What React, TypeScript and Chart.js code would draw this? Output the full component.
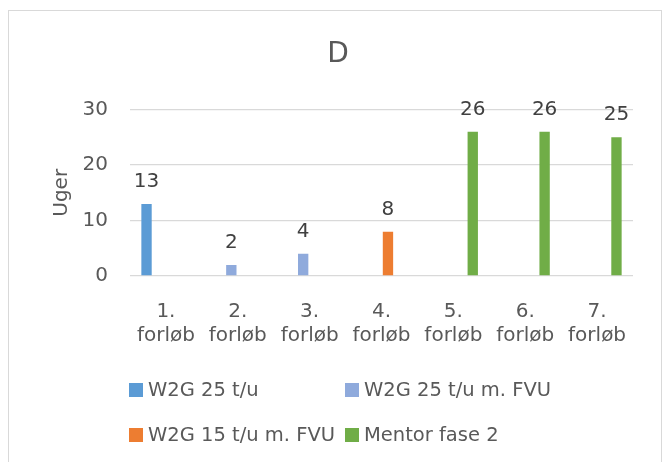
import React, { useEffect, useRef } from "react";
import { Chart, registerables } from "chart.js";

Chart.register(...registerables);

const categories: string[][] = [
  ["1.", "forløb"],
  ["2.", "forløb"],
  ["3.", "forløb"],
  ["4.", "forløb"],
  ["5.", "forløb"],
  ["6.", "forløb"],
  ["7.", "forløb"],
];
const seriesNames = ["W2G 25 t/u", "W2G 25 t/u m. FVU", "W2G 15 t/u m. FVU", "Mentor fase 2"];
const w2g25: (number | null)[] = [13, null, null, null, null, null, null];
const w2g25fvu: (number | null)[] = [null, 2, 4, null, null, null, null];
const w2g15fvu: (number | null)[] = [null, null, null, 8, null, null, null];
const mentor: (number | null)[] = [null, null, null, null, 26, 26, 25];
const seriesColors = ["#5B9BD5", "#8FAADC", "#ED7D31", "#70AD47"];
const yTicks = [0, 10, 20, 30];

const FONT = "'DejaVu Sans', sans-serif";
const TEXT = "#595959";

const valueLabels = {
  id: "valueLabels",
  afterDatasetsDraw(chart: any) {
    const ctx = chart.ctx;
    ctx.save();
    ctx.font = `20px ${FONT}`;
    ctx.fillStyle = "#404040";
    ctx.textAlign = "center";
    ctx.textBaseline = "alphabetic";
    chart.data.datasets.forEach((ds: any, i: number) => {
      const meta = chart.getDatasetMeta(i);
      meta.data.forEach((el: any, j: number) => {
        const v = ds.data[j];
        if (v === null || v === undefined) return;
        ctx.fillText(String(v), el.x, el.y - 17);
      });
    });
    ctx.restore();
  },
};

const customLegend = {
  id: "customLegend",
  afterDraw(chart: any) {
    const ctx = chart.ctx;
    const area = chart.chartArea;
    ctx.save();
    ctx.font = `19.5px ${FONT}`;
    ctx.textBaseline = "middle";
    ctx.textAlign = "left";
    const colX = [area.left - 1, area.left + 215];
    const rowY = [area.bottom + 114, area.bottom + 159];
    chart.data.datasets.forEach((ds: any, i: number) => {
      const x = colX[i % 2];
      const y = rowY[Math.floor(i / 2)];
      ctx.fillStyle = ds.backgroundColor;
      ctx.fillRect(x, y - 7, 14, 14);
      ctx.fillStyle = TEXT;
      ctx.fillText(ds.label, x + 19, y + 1);
    });
    ctx.restore();
  },
};

export default function App() {
  const ref = useRef<HTMLCanvasElement>(null);
  useEffect(() => {
    if (!ref.current) return;
    const seriesData = [w2g25, w2g25fvu, w2g15fvu, mentor];
    const chart = new Chart(ref.current, {
      type: "bar",
      data: {
        labels: categories,
        datasets: seriesData.map((d, i) => ({
          label: seriesNames[i],
          data: d,
          backgroundColor: seriesColors[i],
          categoryPercentage: 0.72,
          barPercentage: 0.8,
        })),
      },
      options: {
        responsive: false,
        animation: false,
        layout: { padding: { top: 10, right: 28, bottom: 103, left: 34 } },
        plugins: {
          legend: { display: false },
          tooltip: { enabled: false },
          title: {
            display: true,
            text: "D",
            color: TEXT,
            font: { family: FONT, size: 28, weight: "normal" },
            padding: { top: 17, bottom: 38 },
          },
        },
        scales: {
          x: {
            grid: { display: false, drawTicks: false },
            border: { display: false },
            ticks: {
              color: TEXT,
              font: { family: FONT, size: 20 },
              padding: 24,
              maxRotation: 0,
              autoSkip: false,
            },
            afterFit: (s: any) => {
              s.height = 90;
            },
          },
          y: {
            min: 0,
            max: 30,
            afterBuildTicks: (s: any) => {
              s.ticks = yTicks.map((v) => ({ value: v }));
            },
            grid: { color: "#d9d9d9", lineWidth: 1.3, drawTicks: false },
            border: { display: false },
            ticks: {
              color: TEXT,
              font: { family: FONT, size: 20 },
              padding: 22,
            },
            title: {
              display: true,
              text: "Uger",
              color: TEXT,
              font: { family: FONT, size: 20, weight: "normal" },
              padding: { top: 7, bottom: 0 },
            },
            afterFit: (s: any) => {
              s.width = 87;
            },
          },
        },
      },
      plugins: [valueLabels, customLegend],
    });
    return () => chart.destroy();
  }, []);
  return (
    <div
      style={{
        position: "fixed",
        left: 8,
        top: 10,
        width: 654,
        height: 460,
        border: "1px solid #d9d9d9",
        boxSizing: "border-box",
        background: "#fff",
      }}
    >
      <canvas ref={ref} width={652} height={458} style={{ display: "block" }} />
    </div>
  );
}
